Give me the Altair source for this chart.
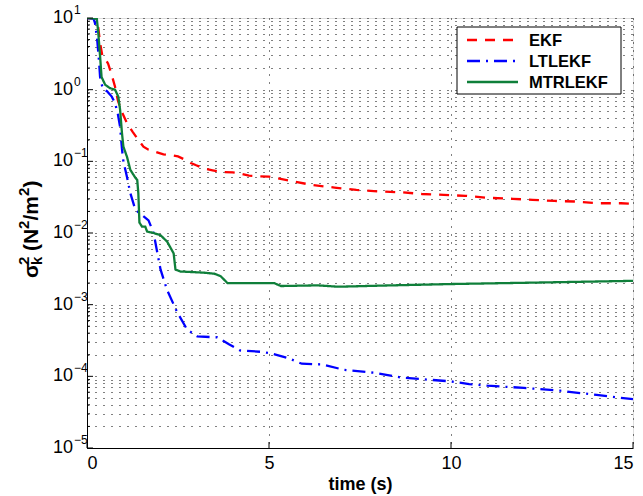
import altair as alt
import pandas as pd

FONT = "Liberation Sans"

series_names = ["EKF", "LTLEKF", "MTRLEKF"]
series_colors = ["#FF0000", "#0000FF", "#0F7F3A"]
series_dashes = [[10, 8], [13, 6, 2, 6], [1, 0]]

ekf_t = [0, 0.25, 0.3, 0.36, 0.42, 0.5, 0.58, 0.68, 0.77, 0.85, 0.95, 1.1, 1.25, 1.41,
         1.55, 1.69, 1.9, 2.1, 2.3, 2.5, 2.7, 2.85, 3.0, 3.2, 3.45, 3.67, 4.0, 4.2, 4.45,
         4.7, 5.0, 5.55, 6.16, 6.8, 7.4, 8.0, 8.65, 9.2, 9.8, 10.4, 11.0, 11.7, 12.24,
         12.84, 13.4, 14.08, 14.67, 15.0]
ekf_v = [10, 9.8, 8, 4.5, 3.0, 2.7, 2.3, 1.6, 1.1, 0.7, 0.5, 0.34, 0.26, 0.2,
         0.16, 0.145, 0.135, 0.125, 0.122, 0.117, 0.105, 0.095, 0.088, 0.08, 0.075, 0.071,
         0.07, 0.068, 0.063, 0.062, 0.061, 0.054, 0.047, 0.043, 0.040, 0.038, 0.037, 0.035,
         0.034, 0.033, 0.031, 0.030, 0.029, 0.028, 0.0275, 0.026, 0.026, 0.0255]

ltlekf_t = [0, 0.18, 0.22, 0.28, 0.33, 0.36, 0.4, 0.45, 0.55, 0.68, 0.77, 0.85, 0.91, 0.96,
            1.0, 1.1, 1.19, 1.33, 1.5, 1.69, 1.83, 1.92, 2.02, 2.2, 2.48, 2.75, 3.03, 3.58,
            3.9, 4.2, 4.78, 5.05, 5.52, 5.9, 6.44, 7.07, 7.9, 8.65, 9.48, 10.0, 10.5, 11.0,
            12.0, 13.0, 14.0, 15.0]
ltlekf_v = [10, 9.8, 8.5, 5, 2.5, 1.5, 1.2, 1.0, 0.95, 0.8, 0.65, 0.45, 0.3, 0.15,
            0.1, 0.06, 0.036, 0.021, 0.018, 0.015, 0.01, 0.0057, 0.0031, 0.0016, 7.8e-4,
            4.5e-4, 3.6e-4, 3.5e-4, 2.8e-4, 2.3e-4, 2.2e-4, 2.1e-4, 1.8e-4, 1.5e-4, 1.47e-4,
            1.23e-4, 1.12e-4, 9.6e-5, 8.9e-5, 8.5e-5, 7.8e-5, 7.4e-5, 6.9e-5, 6.3e-5,
            5.5e-5, 4.8e-5]

mtrlekf_t = [0, 0.27, 0.31, 0.36, 0.4, 0.5, 0.63, 0.77, 0.86, 0.91, 0.96, 1.0, 1.1, 1.19,
             1.33, 1.38, 1.41, 1.44, 1.51, 1.6, 1.65, 1.83, 2.02, 2.2, 2.38, 2.43, 2.57,
             3.2, 3.5, 3.67, 3.86, 5.14, 5.33, 6.34, 6.9, 8.2, 10.0, 12.5, 15.0]
mtrlekf_v = [10, 9.8, 6.2, 2.9, 1.5, 1.17, 1.05, 1.0, 0.8, 0.52, 0.25, 0.16, 0.115, 0.076,
             0.059, 0.055, 0.036, 0.014, 0.0123, 0.0123, 0.0105, 0.01, 0.0093, 0.0076,
             0.0052, 0.0031, 0.0029, 0.0028, 0.0027, 0.0025, 0.002, 0.002, 0.00182,
             0.00186, 0.00178, 0.00185, 0.00194, 0.00204, 0.00215]

y_major_values = [10, 1, 0.1, 0.01, 0.001, 0.0001, 0.00001]
y_major_exponents = ["1", "0", "\u22121", "\u22122", "\u22123", "\u22124", "\u22125"]
y_mantissas = [2, 3, 4, 5, 6, 7, 8, 9]
x_tick_values = [0, 5, 10, 15]

y_minor_values = [m * d for d in y_major_values[1:] for m in y_mantissas]
y_grid_values = y_major_values + y_minor_values

rows = []
for name, ts, vs in [("EKF", ekf_t, ekf_v), ("LTLEKF", ltlekf_t, ltlekf_v),
                     ("MTRLEKF", mtrlekf_t, mtrlekf_v)]:
    for t, v in zip(ts, vs):
        rows.append({"series": name, "t": t, "v": v})
df = pd.DataFrame(rows)

yscale = alt.Scale(type="log", domain=[1e-5, 10], nice=False)
xscale = alt.Scale(domain=[0, 15], nice=False, zero=False)

lines = alt.Chart(df).mark_line(strokeWidth=2.3, clip=True).encode(
    x=alt.X("t:Q", scale=xscale,
            axis=alt.Axis(values=x_tick_values, grid=True, gridDash=[1, 7], gridColor="black",
                          gridOpacity=1, ticks=False, labelFontSize=18, labelFont=FONT,
                          labelPadding=6, labelColor="black", domainColor="black",
                          title="time (s)", titleFont=FONT, titleFontSize=18,
                          titleFontWeight="bold", titlePadding=3, titleColor="black")),
    y=alt.Y("v:Q", scale=yscale,
            axis=alt.Axis(values=y_grid_values, grid=True, gridDash=[1, 7], gridColor="black",
                          gridOpacity=1, ticks=False, labels=False, domainColor="black",
                          title=None)),
    color=alt.Color("series:N", scale=alt.Scale(domain=series_names, range=series_colors),
                    legend=None),
    strokeDash=alt.StrokeDash("series:N",
                              scale=alt.Scale(domain=series_names, range=series_dashes),
                              legend=None),
)

lab_df = pd.DataFrame({"v": y_major_values, "base": ["10"] * len(y_major_values),
                       "exp": y_major_exponents})
base_text = alt.Chart(lab_df).mark_text(align="right", baseline="middle", fontSize=18,
                                        font=FONT, color="black").encode(
    y=alt.Y("v:Q", scale=yscale), x=alt.value(-14), text="base:N")
exp_text = alt.Chart(lab_df).mark_text(align="left", baseline="middle", fontSize=12,
                                       font=FONT, color="black", dy=-8).encode(
    y=alt.Y("v:Q", scale=yscale), x=alt.value(-13), text="exp:N")

major_df = pd.DataFrame({"v": y_major_values})
minor_df = pd.DataFrame({"v": y_minor_values})
ytick_major = alt.Chart(major_df).mark_rule(color="black", strokeWidth=1).encode(
    y=alt.Y("v:Q", scale=yscale), x=alt.value(0), x2=alt.value(6))
ytick_minor = alt.Chart(minor_df).mark_rule(color="black", strokeWidth=1).encode(
    y=alt.Y("v:Q", scale=yscale), x=alt.value(0), x2=alt.value(3))
xt_df = pd.DataFrame({"t": x_tick_values})
xtick = alt.Chart(xt_df).mark_rule(color="black", strokeWidth=1).encode(
    x=alt.X("t:Q", scale=xscale), y=alt.value(430), y2=alt.value(424))

one = major_df.head(1)

# y-axis title  σ²ₖ (N²/m²)  built from rotated text pieces (main text + scripts)
MAIN, SCRIPT = 21, 15
BASE_X, SUP_X, SUB_X = -49, -58, -45
title_pieces = [
    ("σ", BASE_X, 260, MAIN),
    ("2", SUP_X, 247, SCRIPT),
    ("k", SUB_X, 247, SCRIPT),
    ("(N", BASE_X, 233, MAIN),
    ("2", SUP_X, 211, SCRIPT),
    ("/m", BASE_X, 202.5, MAIN),
    ("2", SUP_X, 178, SCRIPT),
    (")", BASE_X, 169.5, MAIN),
]
title_layers = []
for txt, px, py, fs in title_pieces:
    title_layers.append(
        alt.Chart(one).mark_text(
            angle=270, align="left", baseline="alphabetic", font=FONT, fontSize=fs,
            fontWeight="bold", color="black").encode(
            x=alt.value(px), y=alt.value(py), text=alt.value(txt)))

# legend (box, line samples and labels)
legend_layers = [
    alt.Chart(one).mark_rect(fill="white", stroke="black", strokeWidth=1).encode(
        x=alt.value(370), x2=alt.value(534), y=alt.value(9), y2=alt.value(76))
]
for i, (name, col, dash) in enumerate(zip(series_names, series_colors, series_dashes)):
    ly = 22 + 21 * i
    legend_layers.append(
        alt.Chart(one).mark_rule(color=col, strokeWidth=2.3, strokeDash=dash).encode(
            x=alt.value(380), x2=alt.value(431), y=alt.value(ly)))
    legend_layers.append(
        alt.Chart(one).mark_text(align="left", baseline="middle", font=FONT, fontSize=16.5,
                                 fontWeight="bold", color="black").encode(
            x=alt.value(442), y=alt.value(ly + 1), text=alt.value(name)))

chart = alt.layer(lines, base_text, exp_text, ytick_major, ytick_minor, xtick,
                  *title_layers, *legend_layers).properties(
    width=546, height=430,
    autosize=alt.AutoSizeParams(type="none"),
    padding={"left": 87, "top": 18, "right": 10, "bottom": 48},
).configure_view(stroke=None).configure(background="white")

chart.save("out.html", embed_options={"renderer": "svg", "actions": False})
